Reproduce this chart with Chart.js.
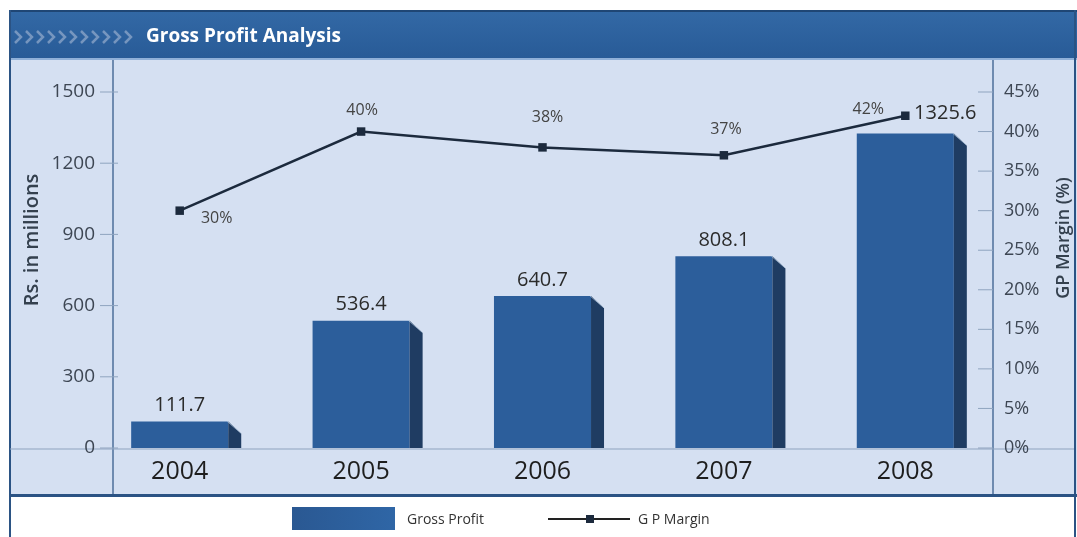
<!DOCTYPE html>
<html>
<head>
<meta charset="utf-8">
<title>Gross Profit Analysis</title>
<script src="https://cdn.jsdelivr.net/npm/chart.js@4.4.1/dist/chart.umd.min.js"></script>
<style>
    html, body { margin: 0; padding: 0; background: #ffffff; }
    #wrap { width: 1077px; height: 537px; }
</style>
</head>
<body>
<div id="wrap"><canvas id="grafico" width="1077" height="537"></canvas></div>
<script>
// dati
var anni = ['2004', '2005', '2006', '2007', '2008'];
var grossProfit = [111.7, 536.4, 640.7, 808.1, 1325.6];
var gpMargin = [30, 40, 38, 37, 42];
var tickSinistra = [0, 300, 600, 900, 1200, 1500];
var tickDestra = [0, 5, 10, 15, 20, 25, 30, 35, 40, 45];

// spostamenti delle etichette (pixel) rispetto alla barra / al punto
var spostaBarre = [[0, -16], [0, -16], [0, -16], [0, -16], [40, -20]];
var spostaPercent = [[37, 8], [1, -21], [5, -30], [2, -26], [-37, -6]];

var BLU = '#2c5e9b';
var BLU_SCURO = '#1f3c62';
var FONT = '"Open Sans", "Noto Sans", sans-serif';

// sfondo, intestazione, pannelli e legenda
var sfondo = {
    id: 'sfondo',
    beforeDraw(chart) {
        var ctx = chart.ctx;
        ctx.save();
        ctx.fillStyle = '#ffffff';
        ctx.fillRect(0, 0, chart.width, chart.height);

        // pannello azzurro
        ctx.fillStyle = '#d5e0f2';
        ctx.fillRect(10, 57, 1067, 438);

        // barra del titolo
        var g = ctx.createLinearGradient(0, 10, 0, 58);
        g.addColorStop(0, '#3369a6');
        g.addColorStop(1, '#285b97');
        ctx.fillStyle = g;
        ctx.fillRect(10, 10, 1067, 48);
        ctx.fillStyle = '#1f4675';
        ctx.fillRect(10, 10, 1067, 2);
        ctx.fillStyle = '#8fb0d8';
        ctx.fillRect(10, 58, 1067, 2);

        // frecce decorative
        ctx.strokeStyle = 'rgba(150,172,205,0.7)';
        ctx.lineWidth = 2.5;
        for (var i = 0; i < 11; i++) {
            var x0 = 15 + i * 11;
            ctx.beginPath();
            ctx.moveTo(x0, 31);
            ctx.lineTo(x0 + 6, 37);
            ctx.lineTo(x0, 43);
            ctx.stroke();
        }

        ctx.fillStyle = '#ffffff';
        ctx.font = 'bold 19px ' + FONT;
        ctx.textBaseline = 'middle';
        ctx.textAlign = 'left';
        ctx.fillText('Gross Profit Analysis', 146, 37);

        // bordi
        ctx.fillStyle = '#2b5384';
        ctx.fillRect(9, 10, 2, 527);
        ctx.fillRect(1074, 10, 2, 527);
        ctx.fillRect(10, 494, 1067, 3);

        ctx.strokeStyle = '#4d6f9b';
        ctx.lineWidth = 1.5;
        ctx.beginPath();
        ctx.moveTo(113, 60); ctx.lineTo(113, 494);
        ctx.moveTo(993, 60); ctx.lineTo(993, 494);
        ctx.stroke();

        // linea di base
        var y = chart.scales.y;
        var y0 = y.getPixelForValue(0);
        ctx.strokeStyle = '#8ea3bf';
        ctx.lineWidth = 1;
        ctx.beginPath();
        ctx.moveTo(10, y0 + 1); ctx.lineTo(1074, y0 + 1);
        ctx.stroke();

        // tacche degli assi
        ctx.strokeStyle = '#8fa4bf';
        tickSinistra.forEach(function (v) {
            var py = y.getPixelForValue(v);
            ctx.beginPath(); ctx.moveTo(100, py); ctx.lineTo(118, py); ctx.stroke();
        });
        var y1 = chart.scales.y1;
        tickDestra.forEach(function (v) {
            var py = y1.getPixelForValue(v);
            ctx.beginPath(); ctx.moveTo(978, py); ctx.lineTo(993, py); ctx.stroke();
        });

        // titoli degli assi
        ctx.fillStyle = '#34404e';
        ctx.textAlign = 'center';
        ctx.save();
        ctx.translate(32, 240);
        ctx.rotate(-Math.PI / 2);
        ctx.font = '600 20px ' + FONT;
        ctx.fillText('Rs. in millions', 0, 0);
        ctx.restore();
        ctx.save();
        ctx.translate(1064, 238);
        ctx.rotate(-Math.PI / 2);
        ctx.font = '600 18px ' + FONT;
        ctx.fillText('GP Margin (%)', 0, 0);
        ctx.restore();

        // legenda
        var lg = ctx.createLinearGradient(292, 0, 395, 0);
        lg.addColorStop(0, '#2a5892');
        lg.addColorStop(1, '#2f66a6');
        ctx.fillStyle = lg;
        ctx.fillRect(292, 507, 103, 23);
        ctx.fillStyle = '#333333';
        ctx.font = '14px ' + FONT;
        ctx.textAlign = 'left';
        ctx.fillText('Gross Profit', 407, 520);
        ctx.strokeStyle = '#222222';
        ctx.lineWidth = 2;
        ctx.beginPath(); ctx.moveTo(548, 519); ctx.lineTo(630, 519); ctx.stroke();
        ctx.fillStyle = '#1c2a3d';
        ctx.fillRect(586, 515, 8, 8);
        ctx.fillStyle = '#333333';
        ctx.fillText('G P Margin', 638, 520);
        ctx.restore();
    },

    // fianco scuro delle barre (effetto 3D)
    afterDatasetDraw(chart, args) {
        if (args.index !== 0) return;
        var ctx = chart.ctx;
        ctx.save();
        args.meta.data.forEach(function (bar) {
            var x2 = bar.x + bar.width / 2;
            var top = bar.y;
            var bottom = bar.base;
            ctx.fillStyle = BLU_SCURO;
            ctx.beginPath();
            ctx.moveTo(x2, top);
            ctx.lineTo(x2 + 13, top + 12);
            ctx.lineTo(x2 + 13, bottom);
            ctx.lineTo(x2, bottom);
            ctx.closePath();
            ctx.fill();
            ctx.strokeStyle = 'rgba(200,220,240,0.6)';
            ctx.lineWidth = 1;
            ctx.beginPath();
            ctx.moveTo(x2 - 1, top);
            ctx.lineTo(x2 + 13, top + 12);
            ctx.stroke();
        });
        ctx.restore();
    },

    // etichette con i valori
    afterDraw(chart) {
        var ctx = chart.ctx;
        ctx.save();
        ctx.textAlign = 'center';
        ctx.textBaseline = 'middle';
        ctx.fillStyle = '#2b2b2b';
        ctx.font = '20px ' + FONT;
        chart.getDatasetMeta(0).data.forEach(function (bar, i) {
            ctx.fillText(String(grossProfit[i]), bar.x + spostaBarre[i][0], bar.y + spostaBarre[i][1]);
        });
        ctx.fillStyle = '#444444';
        ctx.font = '16px ' + FONT;
        chart.getDatasetMeta(1).data.forEach(function (pt, i) {
            ctx.fillText(gpMargin[i] + '%', pt.x + spostaPercent[i][0], pt.y + spostaPercent[i][1]);
        });
        ctx.restore();
    }
};

var ctx = document.getElementById('grafico');
var myChart = new Chart(ctx, {
    type: 'bar',
    data: {
        labels: anni,
        datasets: [{
            type: 'bar',
            label: 'Gross Profit',
            data: grossProfit,
            backgroundColor: BLU,
            borderWidth: 0,
            categoryPercentage: 1,
            barPercentage: 0.535,
            yAxisID: 'y',
            order: 1
        }, {
            type: 'line',
            label: 'G P Margin',
            data: gpMargin,
            borderColor: '#1c2a3d',
            borderWidth: 2.5,
            pointStyle: 'rect',
            pointRadius: 6,
            pointBackgroundColor: '#1c2a3d',
            pointBorderWidth: 0,
            tension: 0,
            yAxisID: 'y1',
            order: 0
        }]
    },
    options: {
        responsive: false,
        animation: false,
        layout: {
            padding: { top: 92, left: 0, right: 0, bottom: 0 }
        },
        scales: {
            x: {
                grid: { display: false, drawTicks: false },
                border: { display: false },
                ticks: {
                    padding: 9,
                    color: '#1e1e1e',
                    font: { family: FONT, size: 25 }
                },
                afterFit(scale) { scale.height = 89; }
            },
            y: {
                position: 'left',
                min: 0,
                max: 1500,
                grid: { display: false, drawTicks: false },
                border: { display: false },
                ticks: {
                    stepSize: 300,
                    padding: -6,
                    color: '#3d4653',
                    font: { family: FONT, size: 19 },
                    callback: function (v) { return String(v); }
                },
                afterFit(scale) {
                    scale.width = 89;
                    // le etichette sporgono un poco oltre il bordo dell'asse
                    scale._computeLabelArea = function () { return undefined; };
                }
            },
            y1: {
                position: 'right',
                min: 0,
                max: 45,
                grid: { display: false, drawTicks: false },
                border: { display: false },
                ticks: {
                    stepSize: 5,
                    padding: 8,
                    color: '#3d4653',
                    font: { family: FONT, size: 18 },
                    callback: function (v) { return v + '%'; }
                },
                afterFit(scale) { scale.width = 81; }
            }
        },
        plugins: {
            legend: { display: false },
            tooltip: { enabled: false }
        }
    },
    plugins: [sfondo]
});
</script>
</body>
</html>
